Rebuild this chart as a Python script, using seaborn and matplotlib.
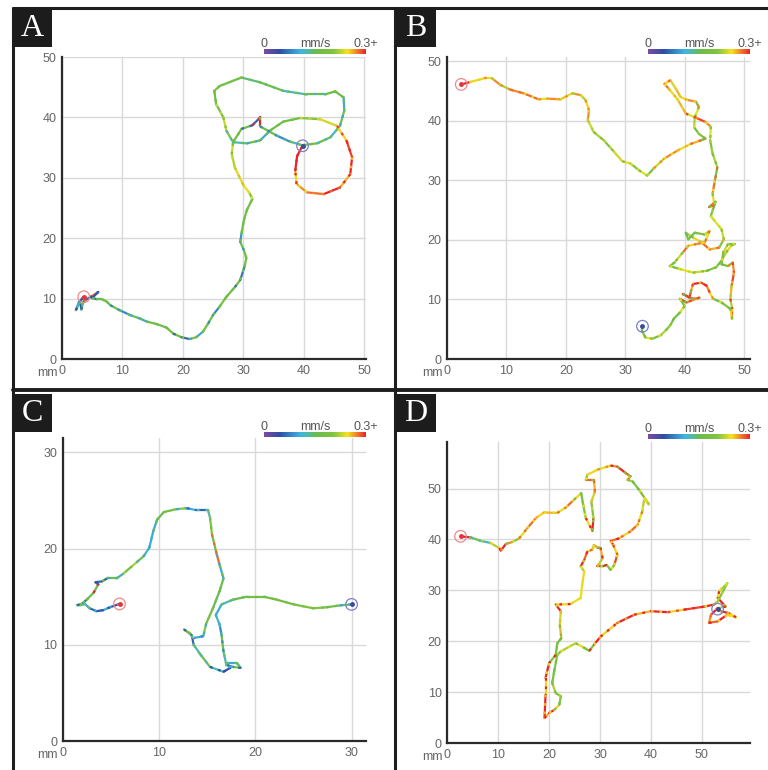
import numpy as np
import matplotlib
matplotlib.use("Agg")
import matplotlib.pyplot as plt
import seaborn as sns
from matplotlib.collections import LineCollection
from matplotlib.colors import LinearSegmentedColormap, Normalize
from matplotlib.cm import ScalarMappable
from matplotlib.lines import Line2D
from matplotlib.patches import Rectangle

# ---- track data (mm) and speed (mm/s) ----
a_x = [3.6, 2.8, 2.3, 3.0, 3.2, 3.6, 4.6, 6.0, 5.0, 5.8, 6.6, 7.4, 8.0, 9.5, 11.2, 12.9, 14.0, 15.6,
       17.3, 18.4, 19.8, 21.1, 22.2, 23.3, 24.2, 25.0, 26.1, 27.2, 28.6, 29.5, 30.2, 30.5, 30.1, 29.5,
       29.7, 30.1, 30.6, 31.5, 31.0, 30.0, 28.6, 28.1, 28.3, 29.7, 31.5, 32.8, 32.8, 35.5, 37.7, 39.7,
       42.2, 44.4, 46.0, 46.7, 46.6, 45.2, 43.5, 40.5, 36.6, 32.8, 29.7, 26.1, 25.2, 25.5, 26.7, 27.2,
       28.3, 30.6, 32.8, 34.4, 36.6, 39.4, 42.7, 45.5, 47.1, 48.0, 47.7, 46.0, 43.3, 40.5, 38.8, 38.6,
       38.9, 39.8]
a_y = [10.3, 9.4, 8.1, 9.5, 8.2, 9.6, 10.2, 11.1, 10.1, 9.9, 9.9, 9.5, 8.9, 8.1, 7.3, 6.7, 6.2, 5.8,
       5.2, 4.2, 3.6, 3.3, 3.6, 4.5, 5.9, 7.3, 8.7, 10.3, 11.9, 13.1, 15.3, 16.7, 18.0, 19.4,
       20.8, 23.0, 24.7, 26.5, 27.5, 28.8, 31.7, 33.9, 35.9, 38.1, 38.7, 40.0, 38.5, 37.0, 36.0, 35.4,
       35.7, 36.7, 38.6, 41.1, 43.3, 44.3, 43.8, 43.8, 44.4, 45.8, 46.6, 45.2, 44.4, 42.2, 40.0, 37.8,
       35.9, 35.7, 36.2, 37.8, 39.3, 39.9, 39.7, 38.6, 36.1, 33.4, 30.6, 28.4, 27.3, 27.6, 29.0, 31.2,
       33.6, 35.3]
a_speed = [0.05, 0.06, 0.12, 0.05, 0.14, 0.06, 0.28, 0.05, 0.06, 0.15, 0.16, 0.16, 0.16, 0.08, 0.15,
           0.10, 0.16, 0.15, 0.16, 0.16, 0.06, 0.20, 0.10, 0.16, 0.17, 0.08, 0.18, 0.16, 0.16, 0.07,
           0.18, 0.17, 0.16, 0.09, 0.16, 0.17, 0.16, 0.18, 0.24, 0.25, 0.22, 0.23, 0.17, 0.16, 0.06,
           0.30, 0.16, 0.08, 0.12, 0.16, 0.16, 0.11, 0.16, 0.10, 0.16, 0.16, 0.16, 0.12, 0.16, 0.14,
           0.16, 0.20, 0.16, 0.17, 0.23, 0.20, 0.12, 0.16, 0.10, 0.16, 0.16, 0.20, 0.23, 0.25, 0.29,
           0.30, 0.26, 0.30, 0.28, 0.27, 0.24, 0.30, 0.30, 0.30]

b_x = [2.4, 3.9, 6.2, 7.6, 9.0, 10.7, 12.9, 15.4, 16.9, 19.1, 19.9, 21.1, 22.5, 23.3, 23.9, 23.7, 24.7,
       26.4, 28.1, 29.5, 30.9, 32.3, 33.7, 34.8, 36.5, 38.8, 41.0, 42.7, 43.5, 42.4, 41.6, 41.7, 42.4,
       41.9, 40.4, 39.3, 38.5, 37.6, 36.6, 37.3, 38.8, 40.2, 41.9, 43.5, 44.4, 44.3, 44.7, 45.5, 45.1,
       44.7, 45.0, 44.1, 45.2, 44.4, 44.8, 46.2, 46.6, 45.8, 44.2, 42.8, 41.4, 40.2, 40.6, 41.7, 43.4,
       44.2, 43.4, 42.0, 40.6, 39.7, 38.3, 37.5, 39.2, 41.4, 43.7, 45.3, 46.2, 47.0, 47.9, 48.4, 47.3,
       46.5, 46.2, 47.3, 48.1, 48.3, 47.9, 47.7, 48.0, 48.0, 47.7, 46.2, 44.8, 44.2, 43.7, 42.8, 41.4,
       41.1, 40.8, 39.7, 41.4, 42.5, 40.3, 39.2, 40.0, 39.2, 38.2, 37.6, 37.1, 36.0, 34.6, 33.4, 32.9,
       32.9]
b_y = [46.1, 46.5, 47.1, 47.1, 46.0, 45.2, 44.6, 43.6, 43.7, 43.6, 44.0, 44.6, 44.3, 43.5, 41.8, 40.1,
       38.1, 36.7, 34.8, 33.2, 32.8, 31.7, 30.8, 32.0, 33.6, 35.0, 36.1, 36.7, 37.0, 37.8, 38.9, 40.6,
       42.3, 43.2, 43.5, 44.0, 45.4, 46.8, 46.2, 45.4, 43.6, 41.2, 40.5, 39.8, 39.0, 36.7, 34.5, 32.2,
       30.0, 27.8, 25.8, 25.5, 26.4, 24.0, 23.5, 21.8, 20.1, 18.7, 18.4, 19.6, 20.4, 21.2, 20.1, 21.2,
       20.9, 21.5, 19.6, 19.3, 19.0, 17.9, 16.2, 15.6, 15.1, 14.5, 14.8, 15.4, 16.5, 17.9, 19.1, 19.3,
       19.3, 17.9, 15.9, 15.6, 16.2, 14.5, 12.3, 10.1, 8.4, 6.7, 8.4, 9.5, 10.1, 11.2, 12.3, 12.8, 12.6,
       11.5, 10.3, 10.9, 10.1, 10.3, 9.5, 10.1, 8.9, 7.8, 6.8, 5.7, 5.1, 4.0, 3.4, 3.6, 4.6, 5.5]
b_speed = [0.30, 0.25, 0.24, 0.27, 0.22, 0.27, 0.28, 0.24, 0.27, 0.26, 0.24, 0.27, 0.22, 0.25, 0.27,
           0.23, 0.22, 0.20, 0.23, 0.25, 0.20, 0.24, 0.18, 0.23, 0.27, 0.24, 0.26, 0.28, 0.20, 0.17,
           0.22, 0.24, 0.18, 0.27, 0.24, 0.26, 0.23, 0.25, 0.28, 0.24, 0.26, 0.24, 0.29, 0.27, 0.24,
           0.20, 0.22, 0.18, 0.28, 0.24, 0.20, 0.28, 0.17, 0.22, 0.24, 0.23, 0.20, 0.26, 0.28, 0.25,
           0.22, 0.18, 0.15, 0.20, 0.17, 0.24, 0.28, 0.25, 0.28, 0.23, 0.20, 0.17, 0.24, 0.23, 0.20,
           0.15, 0.22, 0.25, 0.17, 0.20, 0.23, 0.18, 0.20, 0.17, 0.27, 0.29, 0.26, 0.22, 0.29, 0.25,
           0.20, 0.17, 0.24, 0.27, 0.29, 0.30, 0.26, 0.29, 0.20, 0.29, 0.15, 0.27, 0.29, 0.18, 0.24,
           0.17, 0.20, 0.16, 0.22, 0.18, 0.24, 0.20, 0.17, 0.16]

c_x = [5.9, 4.9, 4.2, 3.5, 2.8, 2.3, 1.8, 1.5, 2.1, 2.5, 3.2, 3.7, 3.4, 4.1, 4.6, 5.6, 6.3, 7.0, 7.7,
       8.4, 9.0, 9.4, 9.8, 10.5, 11.8, 12.9, 13.9, 15.1, 15.3, 15.5, 16.0, 16.3, 16.7, 16.3, 15.6, 14.9,
       14.6, 13.6, 13.2, 12.6, 13.4, 13.6, 14.3, 15.3, 16.7, 17.4, 17.0, 18.1, 18.5, 17.7, 17.0, 16.7,
       16.5, 16.3, 15.9, 16.5, 17.7, 19.1, 20.9, 22.2, 24.0, 26.0, 27.4, 28.8, 30.0]
c_y = [14.25, 13.9, 13.6, 13.5, 13.8, 14.25, 14.1, 14.1, 14.35, 14.7, 15.4, 16.3, 16.5, 16.6, 16.9,
       16.9, 17.4, 18.0, 18.6, 19.2, 20.1, 21.8, 23.0, 23.8, 24.1, 24.2, 24.0, 24.0, 23.2, 21.5, 19.4,
       18.3, 16.9, 15.6, 13.8, 12.2, 10.9, 10.7, 11.2, 11.6, 11.0, 10.0, 9.0, 7.7, 7.2, 7.6, 8.1, 8.1,
       7.6, 7.7, 7.9, 9.3, 11.0, 12.1, 13.1, 14.2, 14.7, 15.0, 15.0, 14.7, 14.2, 13.8, 13.9, 14.1, 14.2]
c_speed = [0.05, 0.10, 0.05, 0.06, 0.10, 0.16, 0.12, 0.20, 0.06, 0.16, 0.15, 0.30, 0.06, 0.05, 0.15,
           0.10, 0.16, 0.22, 0.16, 0.12, 0.10, 0.10, 0.15, 0.16, 0.20, 0.10, 0.06, 0.12, 0.20, 0.16,
           0.28, 0.10, 0.16, 0.15, 0.17, 0.20, 0.10, 0.08, 0.25, 0.16, 0.06, 0.12, 0.16, 0.12, 0.05,
           0.04, 0.10, 0.14, 0.16, 0.06, 0.12, 0.16, 0.08, 0.12, 0.10, 0.12, 0.15, 0.17, 0.16, 0.17,
           0.19, 0.20, 0.18, 0.15, 0.10]

d_x = [2.6, 4.6, 6.6, 8.5, 10.2, 10.5, 11.5, 12.8, 14.1, 15.7, 17.4, 19.0, 21.6, 23.3, 24.9, 26.3,
       26.7, 27.2, 28.5, 28.7, 28.3, 29.0, 28.8, 27.2, 27.5, 29.5, 32.1, 33.4, 35.1, 36.0, 35.4, 36.4,
       37.7, 39.6, 38.7, 38.3, 37.4, 36.0, 33.7, 32.1, 32.6, 33.4, 32.8, 32.1, 31.3, 30.5, 29.5, 30.5,
       30.1, 29.5, 28.8, 28.5, 27.5, 26.9, 26.2, 26.9, 26.5, 26.2, 24.2, 21.3, 22.3, 22.1, 22.4, 21.6,
       21.3, 20.0, 19.3, 19.3, 19.1, 20.0, 21.0, 22.0, 22.3, 21.3, 20.6, 21.0, 21.6, 22.3, 25.2, 26.9,
       27.9, 28.8, 30.1, 33.4, 36.7, 40.0, 43.3, 46.5, 50.5, 52.4, 53.1, 55.0, 53.4, 53.1, 54.7, 53.1,
       51.8, 51.4, 53.1, 55.0, 56.7, 55.4, 53.7, 53.1]
d_y = [40.6, 40.4, 39.7, 39.3, 38.3, 37.8, 39.1, 39.5, 40.2, 42.2, 44.2, 45.3, 45.2, 46.3, 47.8, 49.1,
       46.8, 44.2, 41.7, 44.2, 47.4, 49.4, 51.7, 51.7, 52.7, 53.7, 54.5, 54.3, 53.0, 52.4, 51.7, 51.4,
       49.7, 46.9, 48.1, 45.5, 42.9, 41.6, 40.2, 39.7, 38.9, 37.0, 35.0, 34.0, 35.0, 34.7, 34.7, 36.3,
       38.3, 38.4, 38.9, 38.0, 37.6, 36.0, 34.7, 33.7, 31.1, 28.5, 27.3, 27.2, 25.9, 23.2, 20.6, 19.6,
       17.3, 15.7, 12.8, 9.5, 4.9, 5.9, 6.5, 7.5, 9.2, 9.8, 11.8, 14.1, 17.3, 18.0, 19.6, 18.7, 18.1,
       19.3, 20.9, 23.6, 25.2, 25.9, 25.7, 26.2, 26.8, 27.2, 27.8, 31.4, 29.8, 28.5, 26.8, 26.5, 25.2,
       23.6, 23.9, 25.2, 24.7, 25.5, 25.9, 26.3]
d_speed = [0.30, 0.18, 0.12, 0.22, 0.25, 0.30, 0.27, 0.20, 0.24, 0.28, 0.25, 0.26, 0.24, 0.28, 0.25,
           0.18, 0.20, 0.24, 0.30, 0.20, 0.23, 0.26, 0.28, 0.20, 0.25, 0.24, 0.27, 0.30, 0.18, 0.28,
           0.22, 0.20, 0.16, 0.25, 0.22, 0.24, 0.28, 0.25, 0.28, 0.30, 0.25, 0.29, 0.24, 0.20, 0.18,
           0.30, 0.22, 0.26, 0.30, 0.17, 0.26, 0.24, 0.28, 0.30, 0.22, 0.25, 0.24, 0.24, 0.25, 0.30,
           0.23, 0.26, 0.18, 0.16, 0.20, 0.30, 0.25, 0.30, 0.26, 0.30, 0.25, 0.20, 0.17, 0.22, 0.18,
           0.20, 0.17, 0.22, 0.24, 0.18, 0.20, 0.30, 0.25, 0.30, 0.26, 0.30, 0.25, 0.29, 0.30, 0.24,
           0.20, 0.22, 0.24, 0.30, 0.22, 0.30, 0.27, 0.28, 0.30, 0.25, 0.25, 0.30, 0.26, 0.22]

panel_labels = ["A", "B", "C", "D"]
speed_max = 0.3

W, H = 768, 770

sns.set_theme(style="white")
plt.rcParams["font.family"] = ["Liberation Sans", "DejaVu Sans"]

speed_cmap = LinearSegmentedColormap.from_list(
    "speed",
    [(0.0, "#7b4a9e"), (0.15, "#2d4ea3"), (0.36, "#3cb6e3"), (0.52, "#6cbd45"),
     (0.68, "#80c342"), (0.82, "#f4e41c"), (0.92, "#f2762a"), (1.0, "#ec2227")])
norm = Normalize(0, speed_max)


def fx(px):
    return px / W


def fy(py):
    return 1 - py / H


fig = plt.figure(figsize=(W / 100, H / 100), dpi=100)

# panel layout in pixels: axes rect (left, bottom, right, top), limits, offsets
layout = [
    dict(rect=(62, 359, 366, 57), xlim=50.3, ylim=50.0, ticks=[0, 10, 20, 30, 40, 50],
         off=(0, 0), cbar_y=49),
    dict(rect=(447, 359, 750, 57), xlim=51.0, ylim=50.7, ticks=[0, 10, 20, 30, 40, 50],
         off=(384, 0), cbar_y=49),
    dict(rect=(62.7, 741, 366, 438), xlim=31.5, ylim=31.5, ticks=[0, 10, 20, 30],
         off=(0, 385), cbar_y=47),
    dict(rect=(447.3, 743, 749.7, 441.7), xlim=59.4, ylim=59.2, ticks=[0, 10, 20, 30, 40, 50],
         off=(384, 385), cbar_y=49),
]
tracks = [(a_x, a_y, a_speed), (b_x, b_y, b_speed), (c_x, c_y, c_speed), (d_x, d_y, d_speed)]

for lab, lay, (tx, ty, ts) in zip(panel_labels, layout, tracks):
    l, b, r, t = lay["rect"]
    ax = fig.add_axes([fx(l), fy(b), (r - l) / W, (b - t) / H])
    ax.set_xlim(0, lay["xlim"])
    ax.set_ylim(0, lay["ylim"])
    ax.set_xticks(lay["ticks"])
    ax.set_yticks(lay["ticks"])
    ax.grid(True, color="#d9d9d9", lw=1.0)
    ax.set_axisbelow(True)
    for s in ["top", "right"]:
        ax.spines[s].set_visible(False)
    for s in ["left", "bottom"]:
        ax.spines[s].set_color("#2a2a2a")
        ax.spines[s].set_linewidth(1.6)
    ax.tick_params(length=0, labelsize=9, labelcolor="#666666", pad=4)

    pts = np.column_stack([tx, ty])
    segs = np.stack([pts[:-1], pts[1:]], axis=1)
    sp = np.array(ts)
    lc = LineCollection(segs, colors=speed_cmap(norm(sp[:-1])), linewidths=1.6,
                        capstyle="round", joinstyle="round", zorder=3)
    ax.add_collection(lc)
    # speckle: short dashes in the colour of the next reading along the track
    lc2 = LineCollection(segs, colors=speed_cmap(norm(sp[1:])), linewidths=1.6,
                         linestyles=[(0, (1.2, 2.6))], capstyle="butt", zorder=3.5)
    ax.add_collection(lc2)

    # start / end markers
    ends = {"x": [tx[0], tx[-1]], "y": [ty[0], ty[-1]]}
    sns.scatterplot(x=ends["x"][:1], y=ends["y"][:1], ax=ax, s=70, facecolor="none",
                    edgecolor="#f08a8a", linewidth=0.9, zorder=4)
    sns.scatterplot(x=ends["x"][1:], y=ends["y"][1:], ax=ax, s=70, facecolor="none",
                    edgecolor="#7f7fc8", linewidth=0.9, zorder=4)
    ax.plot(ends["x"][:1], ends["y"][:1], "o", ms=2.5, color="#e8333a", zorder=5)
    ax.plot(ends["x"][1:], ends["y"][1:], "o", ms=2.5, color="#3a4aa0", zorder=5)

    ox, oy = lay["off"]
    fig.text(fx(l - 15), fy(b + 14), "mm", ha="center", va="center", fontsize=9, color="#666666")

    # speed colour bar
    cy = oy + lay["cbar_y"]
    cax = fig.add_axes([fx(ox + 264), fy(cy + 5), 102 / W, 5 / H])
    cb = fig.colorbar(ScalarMappable(norm=norm, cmap=speed_cmap), cax=cax, orientation="horizontal")
    cb.outline.set_visible(False)
    cax.set_xticks([])
    fig.text(fx(ox + 264), fy(cy - 5), "0", ha="center", va="center", fontsize=9, color="#555555")
    fig.text(fx(ox + 315), fy(cy - 5), "mm/s", ha="center", va="center", fontsize=9, color="#555555")
    fig.text(fx(ox + 366), fy(cy - 5), "0.3+", ha="center", va="center", fontsize=9, color="#555555")

    # panel letter box
    bx0, by0 = ox + 12, oy + 9
    fig.patches.append(Rectangle((fx(bx0), fy(by0 + 38)), 40 / W, 38 / H, transform=fig.transFigure,
                                 facecolor="#1c1c1c", edgecolor="none", zorder=5))
    fig.text(fx(bx0 + 20), fy(by0 + 20), lab, ha="center", va="center", fontsize=23,
             color="white", family=["Liberation Serif", "DejaVu Serif"], zorder=6)

# panel frame lines
frame = dict(color="#1e1e1e", transform=fig.transFigure, zorder=4)
fig.lines.append(Line2D([fx(13), fx(768)], [fy(8), fy(8)], lw=2.2, **frame))
fig.lines.append(Line2D([fx(13), fx(768)], [fy(389.5), fy(389.5)], lw=2.8, **frame))
fig.lines.append(Line2D([fx(13), fx(13)], [fy(8), fy(770)], lw=2.2, **frame))
fig.lines.append(Line2D([fx(395), fx(395)], [fy(8), fy(770)], lw=2.2, **frame))

fig.savefig("out.png", dpi=100, facecolor="white")
